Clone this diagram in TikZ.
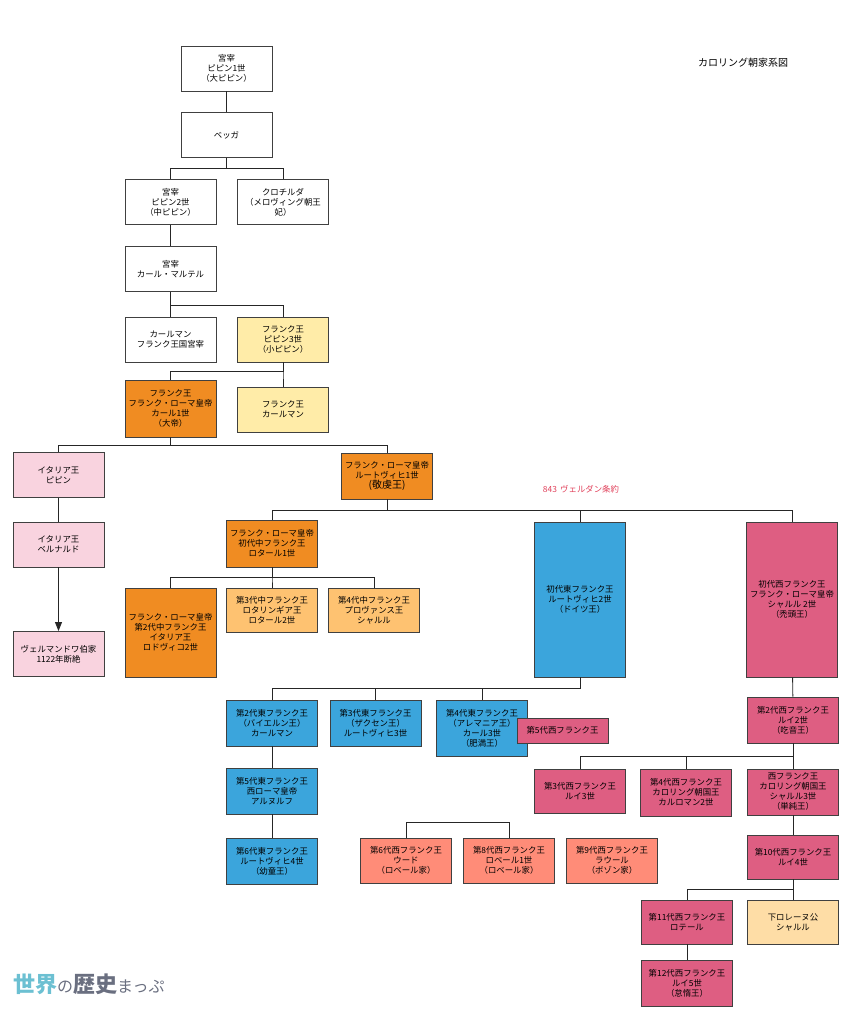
\documentclass[tikz,border=0pt]{standalone}
\usepackage{fontspec}
\setmainfont{Noto Sans CJK JP}
\usetikzlibrary{arrows.meta}

\definecolor{kiiro}{HTML}{FFECA8}
\definecolor{daidai}{HTML}{F08C22}
\definecolor{usudaidai}{HTML}{FEC271}
\definecolor{momo}{HTML}{F9D3DF}
\definecolor{higashi}{HTML}{3BA5DC}
\definecolor{nishi}{HTML}{DE5E82}
\definecolor{sake}{HTML}{FF8C78}
\definecolor{hada}{HTML}{FEDDA6}
\definecolor{aka}{HTML}{E0405A}
\definecolor{sora}{HTML}{6CC0D2}
\definecolor{nezumi}{HTML}{6A6F80}

\begin{document}
\begin{tikzpicture}[x=1pt,y=-1pt,
  main/.style = {draw=black!75, line width=0.9pt, minimum width=91pt, minimum height=45pt,
                 inner sep=1pt, align=center, font=\fontsize{8.4}{10}\selectfont},
  link/.style = {draw=black!85, line width=0.9pt}]
\useasboundingbox (0,0) rectangle (849,1024);

% Merovingian mayors
\node[main] (1) at (226.5,68.5) {宮宰\\ピピン1世\\（大ピピン）};
\node[main] (2) at (226.5,135) {ベッガ};
\node[main] (3) at (170.5,202) {宮宰\\ピピン2世\\（中ピピン）};
\node[main] (4) at (283,202) {クロチルダ\\（メロヴィング朝王\\妃）};
\node[main] (5) at (170.5,269) {宮宰\\カール・マルテル};
\node[main] (6) at (170.5,339.5) {カールマン\\フランク王国宮宰};
\node[main,fill=kiiro] (7) at (283,339.5) {フランク王\\ピピン3世\\（小ピピン）};
\node[main,fill=daidai,minimum height=57pt] (8) at (170.5,408.5) {フランク王\\フランク・ローマ皇帝\\カール1世\\（大帝）};
\node[main,fill=kiiro] (9) at (283,409.5) {フランク王\\カールマン};
\node[main,fill=momo] (10) at (58.5,475) {イタリア王\\ピピン};
\node[main,fill=daidai,minimum height=46pt] (11) at (387,476) {フランク・ローマ皇帝\\ルートヴィヒ1世\\{\fontsize{10}{11}\selectfont (敬虔王)}};
\node[main,fill=momo] (12) at (58.5,544.5) {イタリア王\\ベルナルド};
\node[main,fill=momo] (13) at (58.5,654) {ヴェルマンドワ伯家\\1122年断絶};

% Verdun
\node[main,fill=daidai,minimum height=47pt] (14) at (272,543.5) {フランク・ローマ皇帝\\初代中フランク王\\ロタール1世};
\node[main,fill=higashi,minimum height=155pt] (15) at (580,599.5) {初代東フランク王\\ルートヴィヒ2世\\（ドイツ王）};
\node[main,fill=nishi,minimum height=155pt] (16) at (792,599.5) {初代西フランク王\\フランク・ローマ皇帝\\シャルル 2世\\（禿頭王）};
\node[main,fill=daidai,minimum height=89pt] (17) at (170.5,632.5) {フランク・ローマ皇帝\\第2代中フランク王\\イタリア王\\ロドヴィコ2世};
\node[main,fill=usudaidai,minimum height=44pt] (18) at (272,610) {第3代中フランク王\\ロタリンギア王\\ロタール2世};
\node[main,fill=usudaidai,minimum height=44pt] (19) at (374,610) {第4代中フランク王\\プロヴァンス王\\シャルル};

% East Francia
\node[main,fill=higashi,minimum height=46pt] (20) at (272,723) {第2代東フランク王\\（バイエルン王）\\カールマン};
\node[main,fill=higashi,minimum height=46pt] (21) at (375.5,723) {第3代東フランク王\\（ザクセン王）\\ルートヴィヒ3世};
\node[main,fill=higashi,minimum height=56pt] (22) at (482,728) {第4代東フランク王\\（アレマニア王）\\カール3世\\（肥満王）};
\node[main,fill=nishi,minimum height=25pt] (23) at (562.5,730.5) {第5代西フランク王};
\node[main,fill=higashi,minimum height=46pt] (24) at (272,791) {第5代東フランク王\\西ローマ皇帝\\アルヌルフ};
\node[main,fill=higashi,minimum height=46pt] (25) at (272,861) {第6代東フランク王\\ルートヴィヒ4世\\（幼童王）};

% West Francia
\node[main,fill=sake] (26) at (406,860.5) {第6代西フランク王\\ウード\\（ロベール家）};
\node[main,fill=sake] (27) at (509,860.5) {第8代西フランク王\\ロベール1世\\（ロベール家）};
\node[main,fill=sake] (28) at (612,860.5) {第9代西フランク王\\ラウール\\（ボゾン家）};
\node[main,fill=nishi,minimum height=46pt] (29) at (793,720) {第2代西フランク王\\ルイ2世\\（吃音王）};
\node[main,fill=nishi,minimum height=44pt] (30) at (580,791) {第3代西フランク王\\ルイ3世};
\node[main,fill=nishi,minimum height=47pt] (31) at (686,792.5) {第4代西フランク王\\カロリング朝国王\\カルロマン2世};
\node[main,fill=nishi,minimum height=46pt] (32) at (793,792) {西フランク王\\カロリング朝国王\\シャルル3世\\（単純王）};
\node[main,fill=nishi,minimum height=44pt] (33) at (793,857) {第10代西フランク王\\ルイ4世};
\node[main,fill=nishi,minimum height=44pt] (34) at (687,922) {第11代西フランク王\\ロテール};
\node[main,fill=hada,minimum height=44pt] (35) at (793,922) {下ロレーヌ公\\シャルル};
\node[main,fill=nishi,minimum height=46pt] (36) at (687,983) {第12代西フランク王\\ルイ5世\\（怠惰王）};

\node[font=\fontsize{10}{12}\selectfont] (title) at (743,63) {カロリング朝家系図};
\node[text=aka,font=\fontsize{8.4}{10}\selectfont] (verdun) at (581,489) {843\, ヴェルダン条約};
\node[anchor=west,inner sep=0pt,text=nezumi] (logo) at (13,984)
  {{\fontsize{22}{22}\selectfont\bfseries\color{sora}世界}{\fontsize{16}{16}\selectfont の}{\fontsize{22}{22}\selectfont\bfseries 歴史}{\fontsize{16}{16}\selectfont まっぷ}};

% family lines
\draw[link] (1) -- (2);
\foreach \c in {3,4} \draw[link] (2.south) -- ++(0,11) -| (\c.north);
\draw[link] (3) -- (5);
\foreach \c in {6,7} \draw[link] (5.south) -- ++(0,13) -| (\c.north);
\foreach \c in {8,9} \draw[link] (7.south) -- ++(0,9) -| (\c.north);
\foreach \c in {10,11} \draw[link] (8.south) -- ++(0,8) -| (\c.north);
\draw[link] (10) -- (12);
\draw[link,-{Triangle[length=9pt,width=7pt]}] (12) -- (13);
\foreach \c in {14,15,16} \draw[link] (11.south) -- ++(0,11) -| (\c.north);
\foreach \c in {17,18,19} \draw[link] (14.south) -- ++(0,10) -| (\c.north);
\foreach \c in {20,21,22} \draw[link] (15.south) -- ++(0,11) -| (\c.north);
\draw[link] (20) -- (24);
\draw[link] (24) -- (25);
\draw[link] (26.north) -- ++(0,-15) -| (27.north);
\draw[link] (16) -- (29);
\foreach \c in {30,31,32} \draw[link] (29.south) -- ++(0,13) -| (\c.north);
\draw[link] (32) -- (33);
\foreach \c in {34,35} \draw[link] (33.south) -- ++(0,10) -| (\c.north);
\draw[link] (34) -- (36);
\end{tikzpicture}
\end{document}
